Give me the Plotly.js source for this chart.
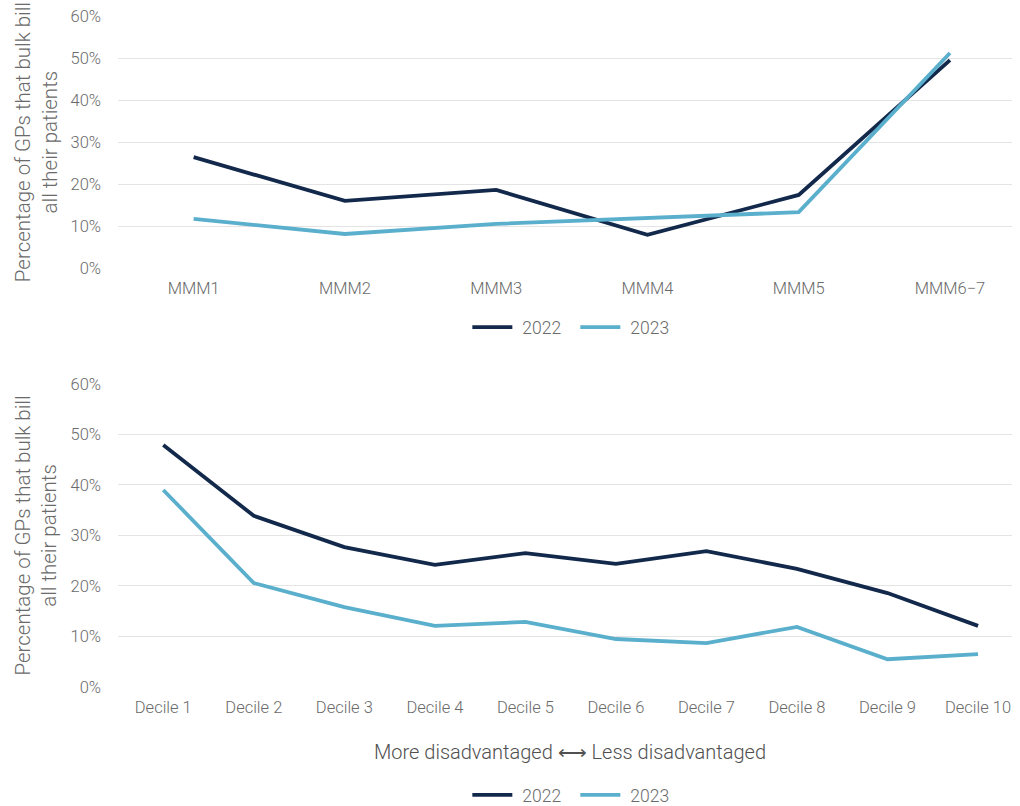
<!DOCTYPE html>
<html><head><meta charset="utf-8">
<script src="https://cdn.plot.ly/plotly-3.0.1.min.js"></script>
<style>html,body{margin:0;padding:0;background:#fff;}#chart{width:1020px;height:806px;}</style>
</head><body><div id="chart"></div>
<script>
const remoteness = ["MMM1","MMM2","MMM3","MMM4","MMM5","MMM6\u22127"];
const remote2022 = [26.4, 16.0, 18.6, 7.9, 17.4, 49.5];
const remote2023 = [11.7, 8.1, 10.5, 11.9, 13.3, 51.2];
const deciles = ["Decile 1","Decile 2","Decile 3","Decile 4","Decile 5","Decile 6","Decile 7","Decile 8","Decile 9","Decile 10"];
const decile2022 = [47.9, 33.9, 27.7, 24.2, 26.5, 24.4, 26.9, 23.4, 18.6, 12.1];
const decile2023 = [39.0, 20.6, 15.8, 12.1, 12.9, 9.5, 8.7, 11.9, 5.5, 6.5];
const yTicks = [0, 10, 20, 30, 40, 50, 60];
const yTickText = ["0%","10%","20%","30%","40%","50%","60%"];
const seriesNames = ["2022","2023"];
const yTitle = "Percentage of GPs that bulk bill<br>all their patients";

const c22 = "#13294b", c23 = "#5aafcc";
const font = "Roboto, 'Open Sans', sans-serif";
const grey = "#6a6a6a";
const W = 300;

const traces = [
  {x: remoteness, y: remote2022, name: seriesNames[0], type: "scatter", mode: "lines", line: {color: c22, width: 3.8}, xaxis: "x", yaxis: "y", legend: "legend"},
  {x: remoteness, y: remote2023, name: seriesNames[1], type: "scatter", mode: "lines", line: {color: c23, width: 3.8}, xaxis: "x", yaxis: "y", legend: "legend"},
  {x: deciles, y: decile2022, name: seriesNames[0], type: "scatter", mode: "lines", line: {color: c22, width: 3.8}, xaxis: "x2", yaxis: "y2", legend: "legend2"},
  {x: deciles, y: decile2023, name: seriesNames[1], type: "scatter", mode: "lines", line: {color: c23, width: 3.8}, xaxis: "x2", yaxis: "y2", legend: "legend2"}
];

const tf = {family: font, size: 16.5, color: grey, weight: W};
const yax = (domain) => ({domain: domain, range: [0, 60], tickvals: yTicks, ticktext: yTickText,
  showgrid: true, gridcolor: "#e4e4e4", gridwidth: 1, zeroline: false, showline: false,
  ticks: "", ticklabelstandoff: 16, tickfont: tf, fixedrange: true, automargin: false});

const legFont = {family: font, size: 17.5, color: grey, weight: W};
const leg = (y) => ({orientation: "h", x: 0.567, xanchor: "center", y: y, yanchor: "middle", xref: "container", yref: "container",
    font: legFont, bgcolor: "rgba(0,0,0,0)", itemwidth: 42, entrywidth: 51, entrywidthmode: "pixels"});

const layout = {
  width: 1020, height: 806,
  margin: {l: 118, r: 8, t: 16, b: 119, autoexpand: false},
  paper_bgcolor: "#fff", plot_bgcolor: "#fff",
  font: {family: font, color: grey},
  xaxis: {domain: [0, 1], anchor: "y", type: "category", range: [-0.5, 5.41], showgrid: false, showline: false, zeroline: false,
    ticks: "", tickfont: tf, ticklabelstandoff: 8, automargin: false},
  yaxis: Object.assign(yax([0.6244, 1]), {anchor: "x"}),
  xaxis2: {domain: [0, 1], anchor: "y2", type: "category", range: [-0.5, 9.375], showgrid: false, showline: false, zeroline: false,
    ticks: "", tickfont: tf, ticklabelstandoff: 8, automargin: false},
  yaxis2: Object.assign(yax([0, 0.4516]), {anchor: "x2"}),
  showlegend: true,
  legend: leg(0.594),
  legend2: leg(0.0136),
  annotations: [
    {text: yTitle, xref: "paper", yref: "paper", x: -0.0917, y: 0.812, textangle: -90, showarrow: false,
      xanchor: "center", yanchor: "middle", font: {family: font, size: 20.5, color: grey, weight: W}},
    {text: yTitle, xref: "paper", yref: "paper", x: -0.0917, y: 0.2258, textangle: -90, showarrow: false,
      xanchor: "center", yanchor: "middle", font: {family: font, size: 20.5, color: grey, weight: W}},
    {text: "More disadvantaged \u27f7 Less disadvantaged", xref: "paper", yref: "paper", x: 0.5056, y: -0.0969,
      showarrow: false, xanchor: "center", yanchor: "middle", font: {family: font, size: 20, color: "#505050", weight: W}}
  ]
};

Plotly.newPlot("chart", traces, layout, {displayModeBar: false, staticPlot: true}).then(function () {
  document.querySelectorAll(".legendlines path").forEach(function (p) { p.setAttribute("d", "M2,0h40"); });
});
</script>
</body></html>
